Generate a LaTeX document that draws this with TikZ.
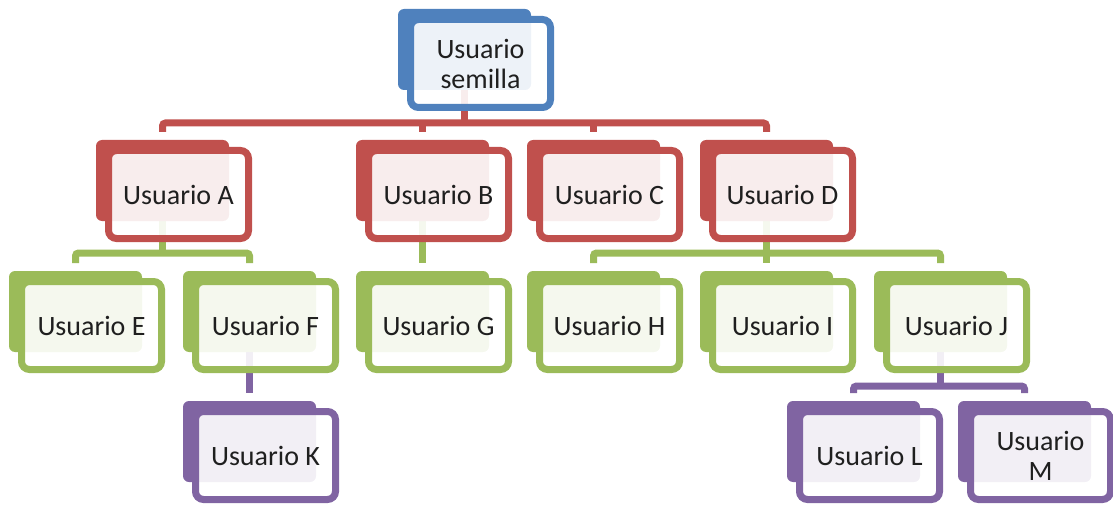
\documentclass[tikz,border=0pt]{standalone}
\usepackage{fontspec}
\setmainfont{Carlito}
\definecolor{cblue}{HTML}{4F81BD}
\definecolor{cred}{HTML}{C0504D}
\definecolor{cgreen}{HTML}{9BBB59}
\definecolor{cpurple}{HTML}{8064A2}
\pgfdeclarelayer{bg}
\pgfsetlayers{bg,main}
% one user: solid shadow card behind, outlined card in front
% #1 name, #2 left, #3 top, #4 colour, #5 label
\newcommand\usernode[5]{%
  \node[backbox=#4] (#1b) at (#2,#3) {};
  \node[frontbox=#4] (#1) at (#2+82.5,#3+54.5) {#5};
}
\begin{document}
\begin{tikzpicture}[x=1pt,y=-1pt,
  backbox/.style={fill=#1, rounded corners=6pt, minimum width=133pt,
    minimum height=81pt, anchor=north west, inner sep=0pt, outer sep=0pt},
  frontbox/.style={draw=#1, line width=7pt, fill=white, fill opacity=0.9,
    text opacity=1, rounded corners=8pt, minimum width=140pt,
    minimum height=88pt, inner sep=0pt, align=center,
    font=\fontsize{28}{30}\selectfont, text=black!88},
  link/.style={draw=#1, line width=7pt},
]
\useasboundingbox (0,0) rectangle (1113,505);

\usernode{root}{398}{9}{cblue}{Usuario\\semilla}

\usernode{A}{96}{140}{cred}{Usuario A}
\usernode{B}{356}{140}{cred}{Usuario B}
\usernode{C}{527}{140}{cred}{Usuario C}
\usernode{D}{700}{140}{cred}{Usuario D}

\usernode{E}{9}{271}{cgreen}{Usuario E}
\usernode{F}{183}{271}{cgreen}{Usuario F}
\usernode{G}{356}{271}{cgreen}{Usuario G}
\usernode{H}{527}{271}{cgreen}{Usuario H}
\usernode{I}{700}{271}{cgreen}{Usuario I}
\usernode{J}{874}{271}{cgreen}{Usuario J}

\usernode{K}{183}{401}{cpurple}{Usuario K}
\usernode{L}{787}{401}{cpurple}{Usuario L}
\usernode{M}{958}{401}{cpurple}{Usuario\\M}

\begin{pgfonlayer}{bg}
  \coordinate (r1) at (0,123);
  \coordinate (g1) at (0,253);
  \coordinate (p1) at (0,386);
  % semilla -> A, B, C, D
  \draw[link=cred] (rootb.south) -- (rootb.south |- r1);
  \draw[link=cred, rounded corners=3pt] ([yshift=8pt]Ab.north) -- (Ab.north |- r1)
    -- (Db.north |- r1) -- ([yshift=8pt]Db.north);
  \draw[link=cred] ([yshift=8pt]Bb.north) -- (Bb.north |- r1);
  \draw[link=cred] ([yshift=8pt]Cb.north) -- (Cb.north |- r1);
  % A -> E, F
  \draw[link=cgreen] (Ab.south) -- (Ab.south |- g1);
  \draw[link=cgreen, rounded corners=3pt] ([yshift=8pt]Eb.north) -- (Eb.north |- g1)
    -- (Fb.north |- g1) -- ([yshift=8pt]Fb.north);
  % B -> G
  \draw[link=cgreen] (Bb.south) -- ([yshift=8pt]Gb.north);
  % D -> H, I, J
  \draw[link=cgreen] (Db.south) -- ([yshift=8pt]Ib.north);
  \draw[link=cgreen, rounded corners=3pt] ([yshift=8pt]Hb.north) -- (Hb.north |- g1)
    -- (Jb.north |- g1) -- ([yshift=8pt]Jb.north);
  % F -> K
  \draw[link=cpurple] (Fb.south) -- ([yshift=8pt]Kb.north);
  % J -> L, M
  \draw[link=cpurple] (Jb.south) -- (Jb.south |- p1);
  \draw[link=cpurple, rounded corners=3pt] ([yshift=8pt]Lb.north) -- (Lb.north |- p1)
    -- (Mb.north |- p1) -- ([yshift=8pt]Mb.north);
\end{pgfonlayer}
\end{tikzpicture}
\end{document}
